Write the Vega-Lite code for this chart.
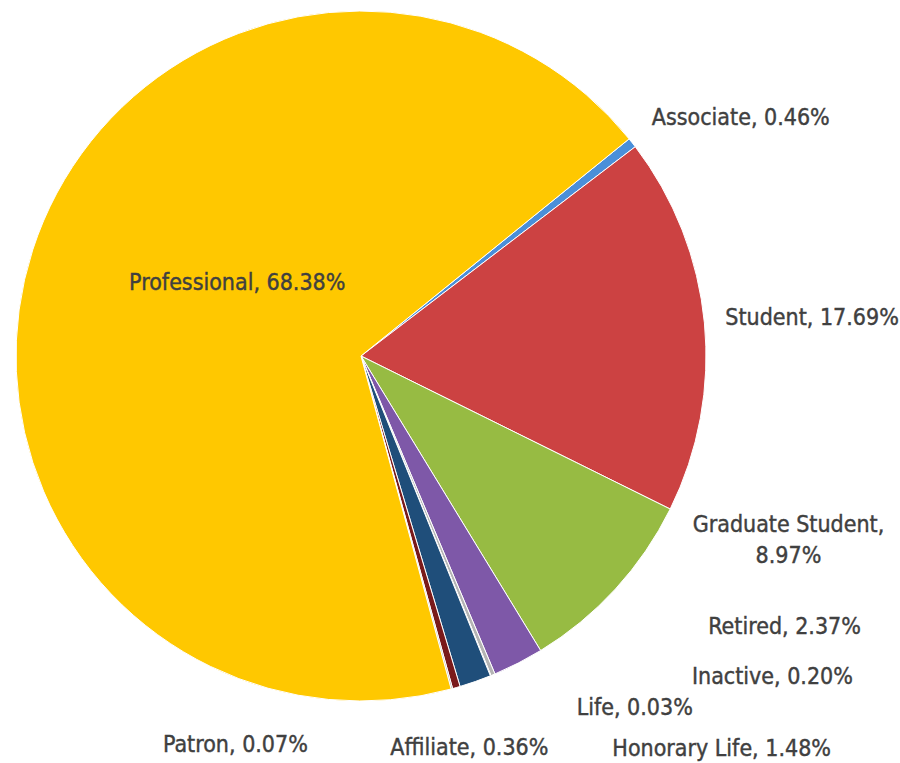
{
  "$schema": "https://vega.github.io/schema/vega-lite/v6.json",
  "width": 722,
  "height": 712,
  "autosize": {"type": "none"},
  "padding": {"left": 0, "top": 0, "right": 178, "bottom": 51},
  "background": "white",
  "config": {"view": {"stroke": null}, "text": {"font": "DejaVu Sans Condensed", "fontSize": 23, "fill": "#404040", "stroke": "#404040", "strokeWidth": 0.4}},
  "data": {"values": [
    {"cat": "Associate", "pct": 0.46, "rank": 1, "label": "Associate, 0.46%"},
    {"cat": "Student", "pct": 17.69, "rank": 2, "label": "Student, 17.69%"},
    {"cat": "Graduate Student", "pct": 8.97, "rank": 3, "label": "Graduate Student,\n8.97%"},
    {"cat": "Retired", "pct": 2.37, "rank": 4, "label": "Retired, 2.37%"},
    {"cat": "Inactive", "pct": 0.20, "rank": 5, "label": "Inactive, 0.20%"},
    {"cat": "Life", "pct": 0.03, "rank": 6, "label": "Life, 0.03%"},
    {"cat": "Honorary Life", "pct": 1.48, "rank": 7, "label": "Honorary Life, 1.48%"},
    {"cat": "Affiliate", "pct": 0.36, "rank": 8, "label": "Affiliate, 0.36%"},
    {"cat": "Patron", "pct": 0.07, "rank": 9, "label": "Patron, 0.07%"},
    {"cat": "Professional", "pct": 68.38, "rank": 10, "label": "Professional, 68.38%"}
  ]},
  "encoding": {
    "theta": {"field": "pct", "type": "quantitative", "stack": true, "scale": {"range": [0.8901, 7.1733]}},
    "order": {"field": "rank", "type": "quantitative"}
  },
  "layer": [
    {
      "mark": {"type": "arc", "outerRadius": 345, "stroke": "#ffffff", "strokeWidth": 1},
      "encoding": {
        "color": {"field": "cat", "type": "nominal", "legend": null,
          "scale": {
            "domain": ["Associate", "Student", "Graduate Student", "Retired", "Inactive", "Life", "Honorary Life", "Affiliate", "Patron", "Professional"],
            "range": ["#4A8FD9", "#CC4242", "#97BB43", "#7E58A8", "#B4B4B4", "#C8C8C8", "#1F4E7A", "#7A1A1A", "#A0A0A0", "#FFC800"]
          }}
      }
    },
    {
      "mark": {"type": "text", "radius": 370, "align": "left", "baseline": "middle", "dx": 0, "dy": -9},
      "encoding": {"text": {"condition": {"test": "datum.cat === 'Associate'", "field": "label"}, "value": ""}}
    },
    {
      "mark": {"type": "text", "radius": 365, "align": "left", "baseline": "middle", "dx": 1, "dy": -3},
      "encoding": {"text": {"condition": {"test": "datum.cat === 'Student'", "field": "label"}, "value": ""}}
    },
    {
      "mark": {"type": "text", "radius": 129, "align": "center", "baseline": "middle", "dx": -1, "dy": -33},
      "encoding": {"text": {"condition": {"test": "datum.cat === 'Professional'", "field": "label"}, "value": ""}}
    },
    {
      "mark": {"type": "text", "radius": 345, "align": "center", "baseline": "middle", "lineBreak": "\n", "lineHeight": 31, "dx": 173, "dy": -64},
      "encoding": {"text": {"condition": {"test": "datum.cat === 'Graduate Student'", "field": "label"}, "value": ""}}
    },
    {
      "mark": {"type": "text", "radius": 345, "align": "left", "baseline": "middle", "dx": 190, "dy": -36},
      "encoding": {"text": {"condition": {"test": "datum.cat === 'Retired'", "field": "label"}, "value": ""}}
    },
    {
      "mark": {"type": "text", "radius": 345, "align": "left", "baseline": "middle", "dx": 199, "dy": 2},
      "encoding": {"text": {"condition": {"test": "datum.cat === 'Inactive'", "field": "label"}, "value": ""}}
    },
    {
      "mark": {"type": "text", "radius": 345, "align": "left", "baseline": "middle", "dx": 86, "dy": 32},
      "encoding": {"text": {"condition": {"test": "datum.cat === 'Life'", "field": "label"}, "value": ""}}
    },
    {
      "mark": {"type": "text", "radius": 345, "align": "left", "baseline": "middle", "dx": 137, "dy": 67},
      "encoding": {"text": {"condition": {"test": "datum.cat === 'Honorary Life'", "field": "label"}, "value": ""}}
    },
    {
      "mark": {"type": "text", "radius": 345, "align": "center", "baseline": "middle", "dx": 13, "dy": 60},
      "encoding": {"text": {"condition": {"test": "datum.cat === 'Affiliate'", "field": "label"}, "value": ""}}
    },
    {
      "mark": {"type": "text", "radius": 345, "align": "right", "baseline": "middle", "dx": -144, "dy": 56},
      "encoding": {"text": {"condition": {"test": "datum.cat === 'Patron'", "field": "label"}, "value": ""}}
    }
  ]
}
